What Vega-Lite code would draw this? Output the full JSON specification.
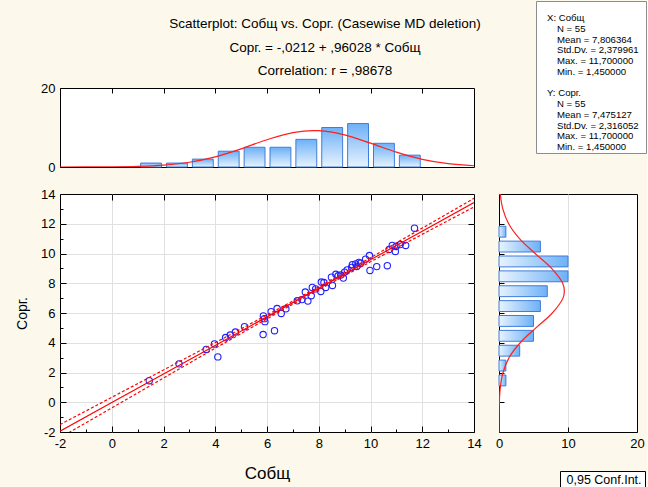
{
  "$schema": "https://vega.github.io/schema/vega-lite/v6.json",
  "background": "#FDF8EC",
  "padding": {"left": 15, "top": 0, "right": 0, "bottom": 0},
  "config": {
    "font": "Liberation Sans",
    "view": {"stroke": "#000000", "strokeWidth": 1, "fill": "#ffffff"},
    "axis": {"domain": false, "labelColor": "#000000", "labelFontSize": 13, "labelFont": "Liberation Sans", "tickColor": "#000000", "gridColor": "#e0e0e0", "titleColor": "#000000", "titleFont": "Liberation Sans", "titleFontWeight": "normal", "labelOverlap": false}
  },
  "datasets": {
    "pts": [
      {"x": 1.45, "y": 1.45}, {"x": 2.6, "y": 2.58}, {"x": 3.65, "y": 3.55}, {"x": 3.97, "y": 3.92}, {"x": 4.1, "y": 3.05},
      {"x": 4.4, "y": 4.35}, {"x": 4.58, "y": 4.52}, {"x": 4.78, "y": 4.72}, {"x": 5.13, "y": 5.08}, {"x": 5.85, "y": 4.55},
      {"x": 6.29, "y": 4.81}, {"x": 5.86, "y": 5.8}, {"x": 5.92, "y": 5.42}, {"x": 6.16, "y": 6.09}, {"x": 6.39, "y": 6.3},
      {"x": 6.55, "y": 5.97}, {"x": 6.73, "y": 6.28}, {"x": 7.17, "y": 6.82}, {"x": 7.35, "y": 6.9}, {"x": 7.48, "y": 7.41},
      {"x": 7.58, "y": 6.8}, {"x": 7.71, "y": 7.16}, {"x": 7.75, "y": 7.72}, {"x": 7.88, "y": 7.62}, {"x": 8.08, "y": 7.45},
      {"x": 8.1, "y": 8.08}, {"x": 8.2, "y": 8.05}, {"x": 8.27, "y": 7.72}, {"x": 8.49, "y": 8.41}, {"x": 8.53, "y": 7.85},
      {"x": 8.66, "y": 8.6}, {"x": 8.95, "y": 8.35}, {"x": 9.0, "y": 8.75}, {"x": 9.1, "y": 8.9}, {"x": 9.27, "y": 9.06},
      {"x": 9.3, "y": 9.25}, {"x": 9.47, "y": 9.13}, {"x": 9.43, "y": 9.3}, {"x": 9.62, "y": 9.35}, {"x": 9.81, "y": 9.62},
      {"x": 9.96, "y": 9.86}, {"x": 9.98, "y": 8.86}, {"x": 10.24, "y": 9.12}, {"x": 10.65, "y": 9.18}, {"x": 10.72, "y": 10.27},
      {"x": 10.84, "y": 10.54}, {"x": 10.96, "y": 10.14}, {"x": 10.99, "y": 10.47}, {"x": 11.15, "y": 10.6}, {"x": 11.36, "y": 10.54},
      {"x": 11.7, "y": 11.7}, {"x": 5.9, "y": 5.62}, {"x": 8.75, "y": 8.5}, {"x": 8.85, "y": 8.55}, {"x": 9.55, "y": 9.4}
    ],
    "hx": [
      {"b0": 1, "b1": 2, "n": 1}, {"b0": 2, "b1": 3, "n": 1}, {"b0": 3, "b1": 4, "n": 2}, {"b0": 4, "b1": 5, "n": 4},
      {"b0": 5, "b1": 6, "n": 5}, {"b0": 6, "b1": 7, "n": 5}, {"b0": 7, "b1": 8, "n": 7}, {"b0": 8, "b1": 9, "n": 10},
      {"b0": 9, "b1": 10, "n": 11}, {"b0": 10, "b1": 11, "n": 6}, {"b0": 11, "b1": 12, "n": 3}
    ],
    "hy": [
      {"b0": 1, "b1": 2, "n": 1}, {"b0": 2, "b1": 3, "n": 1}, {"b0": 3, "b1": 4, "n": 3}, {"b0": 4, "b1": 5, "n": 5},
      {"b0": 5, "b1": 6, "n": 5}, {"b0": 6, "b1": 7, "n": 6}, {"b0": 7, "b1": 8, "n": 7}, {"b0": 8, "b1": 9, "n": 10},
      {"b0": 9, "b1": 10, "n": 10}, {"b0": 10, "b1": 11, "n": 6}, {"b0": 11, "b1": 12, "n": 1}
    ],
    "nx": [
      {"v": -2, "d": 0.0}, {"v": -1, "d": 0.01}, {"v": 0, "d": 0.04}, {"v": 1, "d": 0.15}, {"v": 2, "d": 0.47},
      {"v": 3, "d": 1.2}, {"v": 4, "d": 2.57}, {"v": 5, "d": 4.6}, {"v": 6, "d": 6.91}, {"v": 7, "d": 8.71},
      {"v": 7.8, "d": 9.22}, {"v": 8, "d": 9.19}, {"v": 9, "d": 8.13}, {"v": 10, "d": 6.03}, {"v": 11, "d": 3.75},
      {"v": 12, "d": 1.95}, {"v": 13, "d": 0.85}, {"v": 14, "d": 0.31}
    ],
    "ny": [
      {"v": -2, "d": 0.0}, {"v": -1, "d": 0.01}, {"v": 0, "d": 0.05}, {"v": 1, "d": 0.19}, {"v": 2, "d": 0.58},
      {"v": 3, "d": 1.46}, {"v": 4, "d": 3.07}, {"v": 5, "d": 5.35}, {"v": 6, "d": 7.73}, {"v": 7, "d": 9.27},
      {"v": 7.5, "d": 9.47}, {"v": 8, "d": 9.23}, {"v": 9, "d": 7.62}, {"v": 10, "d": 5.23}, {"v": 11, "d": 2.97},
      {"v": 12, "d": 1.4}, {"v": 13, "d": 0.55}, {"v": 14, "d": 0.18}
    ],
    "fit": [
      {"x": -2, "fit": -1.94, "lo": -2.38, "hi": -1.5},
      {"x": 0, "fit": -0.02, "lo": -0.38, "hi": 0.33},
      {"x": 2, "fit": 1.9, "lo": 1.63, "hi": 2.17},
      {"x": 4, "fit": 3.82, "lo": 3.63, "hi": 4.01},
      {"x": 6, "fit": 5.74, "lo": 5.61, "hi": 5.87},
      {"x": 7.8, "fit": 7.47, "lo": 7.37, "hi": 7.57},
      {"x": 10, "fit": 9.58, "lo": 9.44, "hi": 9.72},
      {"x": 12, "fit": 11.5, "lo": 11.29, "hi": 11.71},
      {"x": 14, "fit": 13.42, "lo": 13.13, "hi": 13.71}
    ],
    "ttl": [
      {"k": 0, "t": "Scatterplot: Собщ vs. Сорг. (Casewise MD deletion)"},
      {"k": 1, "t": "Сорг. = -,0212 + ,96028 * Собщ"},
      {"k": 2, "t": "Correlation: r = ,98678"}
    ],
    "stats": [
      {"k": 0, "kind": "h", "t": "X: Собщ"},
      {"k": 1, "kind": "i", "t": "N = 55"},
      {"k": 2, "kind": "i", "t": "Mean = 7,806364"},
      {"k": 3, "kind": "i", "t": "Std.Dv. = 2,379961"},
      {"k": 4, "kind": "i", "t": "Max. = 11,700000"},
      {"k": 5, "kind": "i", "t": "Min. = 1,450000"},
      {"k": 7, "kind": "h", "t": "Y: Сорг."},
      {"k": 8, "kind": "i", "t": "N = 55"},
      {"k": 9, "kind": "i", "t": "Mean = 7,475127"},
      {"k": 10, "kind": "i", "t": "Std.Dv. = 2,316052"},
      {"k": 11, "kind": "i", "t": "Max. = 11,700000"},
      {"k": 12, "kind": "i", "t": "Min. = 1,450000"}
    ]
  },
  "vconcat": [
    {
      "hconcat": [
        {
          "vconcat": [
            {
              "width": 414, "height": 61,
              "view": {"stroke": null, "fill": "transparent"},
              "data": {"name": "ttl"},
              "mark": {"type": "text", "fontSize": 13.5, "color": "#000000", "dx": 58, "baseline": "middle"},
              "encoding": {
                "y": {"field": "k", "type": "quantitative", "scale": {"domain": [0, 2], "range": [23, 70]}, "axis": null},
                "text": {"field": "t", "type": "nominal"}
              }
            },
            {
              "width": 414, "height": 79,
              "layer": [
                {
                  "data": {"name": "hx"},
                  "mark": {"type": "bar", "binSpacing": 5, "stroke": "#3f7ddb", "strokeWidth": 1,
                    "fill": {"gradient": "linear", "x1": 0, "y1": 0, "x2": 0, "y2": 1, "stops": [{"offset": 0, "color": "#6db1f6"}, {"offset": 1, "color": "#e8f3fe"}]}},
                  "encoding": {
                    "x": {"field": "b0", "type": "quantitative", "bin": "binned", "title": null, "scale": {"domain": [-2, 14], "nice": false, "zero": false},
                      "axis": {"orient": "top", "values": [0, 2, 4, 6, 8, 10, 12], "tickCount": 30, "labels": false, "grid": false, "tickSize": -5}},
                    "x2": {"field": "b1"},
                    "y": {"field": "n", "type": "quantitative", "title": null, "scale": {"domain": [0, 20], "nice": false},
                      "axis": {"values": [0, 10, 20], "format": "d", "labelOverlap": false, "grid": true, "gridOpacity": {"condition": {"test": "datum.value == 10", "value": 1}, "value": 0}, "tickSize": -5, "labelPadding": 10}}
                  }
                },
                {
                  "data": {"name": "nx"},
                  "mark": {"type": "line", "color": "#ff1f1f", "strokeWidth": 1.2, "interpolate": "monotone", "clip": true},
                  "encoding": {
                    "x": {"field": "v", "type": "quantitative", "title": null},
                    "y": {"field": "d", "type": "quantitative", "title": null}
                  }
                }
              ]
            }
          ],
          "spacing": 3
        },
        {
          "width": 110, "height": 152,
          "view": {"stroke": "#8c8c8c", "fill": "#ffffff"},
          "data": {"name": "stats"},
          "mark": {"type": "text", "align": "left", "baseline": "middle", "fontSize": 9.6, "color": "#000000"},
          "encoding": {
            "x": {"field": "kind", "type": "nominal", "scale": {"type": "point", "domain": ["h", "i"], "range": [11, 21], "padding": 0}, "axis": null},
            "y": {"field": "k", "type": "quantitative", "scale": {"domain": [0, 12], "range": [17, 146]}, "axis": null},
            "text": {"field": "t", "type": "nominal"}
          }
        }
      ],
      "spacing": 54
    },
    {
      "hconcat": [
        {
          "width": 414, "height": 238,
          "resolve": {"axis": {"x": "independent", "y": "independent"}},
          "layer": [
            {
              "data": {"name": "pts"},
              "mark": {"type": "point", "shape": "circle", "filled": false, "color": "#1f1fff", "size": 40, "strokeWidth": 1.1, "opacity": 1, "clip": true},
              "encoding": {
                "x": {"field": "x", "type": "quantitative", "title": "Собщ", "scale": {"domain": [-2, 14], "nice": false, "zero": false},
                  "axis": {"values": [-2, -1, 0, 1, 2, 3, 4, 5, 6, 7, 8, 9, 10, 11, 12, 13, 14], "tickCount": 30,
                    "labelExpr": "datum.value % 2 == 0 ? '' + datum.value : ''",
                    "labelOverlap": false,
                    "grid": true,
                    "gridOpacity": {"condition": {"test": "datum.value % 2 == 0 && datum.value > -2 && datum.value < 14", "value": 1}, "value": 0},
                    "tickSize": {"condition": {"test": "datum.value % 2 == 0", "value": -6}, "value": -3},
                    "labelPadding": 11, "labelFlush": false, "titleFontSize": 17, "titlePadding": 12}},
                "y": {"field": "y", "type": "quantitative", "title": "Сорг.", "scale": {"domain": [-2, 14], "nice": false, "zero": false},
                  "axis": {"values": [-2, -1, 0, 1, 2, 3, 4, 5, 6, 7, 8, 9, 10, 11, 12, 13, 14], "tickCount": 30,
                    "labelExpr": "datum.value % 2 == 0 ? '' + datum.value : ''",
                    "labelOverlap": false,
                    "grid": true,
                    "gridOpacity": {"condition": {"test": "datum.value % 2 == 0 && datum.value > -2 && datum.value < 14", "value": 1}, "value": 0},
                    "tickSize": {"condition": {"test": "datum.value % 2 == 0", "value": -6}, "value": -3},
                    "labelPadding": 11, "labelFlush": false, "titleFontSize": 14, "titlePadding": 11}}
              }
            },
            {
              "data": {"name": "fit"},
              "mark": {"type": "line", "color": "#ff0000", "strokeWidth": 1.2, "clip": true},
              "encoding": {
                "x": {"field": "x", "type": "quantitative", "title": null,
                  "axis": {"orient": "top", "values": [0, 2, 4, 6, 8, 10, 12], "tickCount": 30, "labels": false, "grid": false, "tickSize": -6}},
                "y": {"field": "fit", "type": "quantitative", "title": null,
                  "axis": {"orient": "right", "values": [0, 2, 4, 6, 8, 10, 12], "tickCount": 30, "labels": false, "grid": false, "tickSize": -6}}
              }
            },
            {
              "data": {"name": "fit"},
              "mark": {"type": "line", "color": "#ff0000", "strokeWidth": 1.2, "clip": true, "interpolate": "monotone"},
              "encoding": {
                "x": {"field": "x", "type": "quantitative", "axis": null},
                "y": {"field": "lo", "type": "quantitative", "axis": null},
                "strokeDash": {"datum": "0,95 Conf.Int.", "type": "nominal", "scale": {"domain": ["0,95 Conf.Int."], "range": [[3, 2]]},
                  "legend": {"title": null, "orient": "none", "legendX": 500, "legendY": 470, "strokeColor": "#000000", "fillColor": "#ffffff", "padding": 3, "symbolOpacity": 0, "symbolSize": 0, "symbolStrokeWidth": 0, "labelFontSize": 12.5, "labelOffset": -9, "labelColor": "#000000", "labelFont": "Liberation Sans"}}
              }
            },
            {
              "data": {"name": "fit"},
              "mark": {"type": "line", "color": "#ff0000", "strokeWidth": 1.2, "clip": true, "interpolate": "monotone"},
              "encoding": {
                "x": {"field": "x", "type": "quantitative", "axis": null},
                "y": {"field": "hi", "type": "quantitative", "axis": null},
                "strokeDash": {"datum": "0,95 Conf.Int.", "type": "nominal"}
              }
            }
          ]
        },
        {
          "width": 138, "height": 238,
          "layer": [
            {
              "data": {"name": "hy"},
              "mark": {"type": "bar", "binSpacing": 4, "stroke": "#3f7ddb", "strokeWidth": 1,
                "fill": {"gradient": "linear", "x1": 0, "y1": 0, "x2": 1, "y2": 0, "stops": [{"offset": 0, "color": "#e8f3fe"}, {"offset": 1, "color": "#6db1f6"}]}},
              "encoding": {
                "y": {"field": "b0", "type": "quantitative", "bin": "binned", "title": null, "scale": {"domain": [-2, 14], "nice": false, "zero": false},
                  "axis": {"values": [0, 2, 4, 6, 8, 10, 12], "tickCount": 30, "labels": false, "grid": false, "tickSize": -5}},
                "y2": {"field": "b1"},
                "x": {"field": "n", "type": "quantitative", "title": null, "scale": {"domain": [0, 20], "nice": false},
                  "axis": {"values": [0, 10, 20], "format": "d", "labelOverlap": false, "grid": true, "gridOpacity": {"condition": {"test": "datum.value == 10", "value": 1}, "value": 0}, "tickSize": -5, "labelPadding": 10, "labelFlush": false}}
              }
            },
            {
              "data": {"name": "ny"},
              "mark": {"type": "line", "color": "#ff1f1f", "strokeWidth": 1.2, "interpolate": "catmull-rom", "clip": true},
              "encoding": {
                "x": {"field": "d", "type": "quantitative", "title": null},
                "y": {"field": "v", "type": "quantitative", "title": null},
                "order": {"field": "v", "type": "quantitative"}
              }
            }
          ]
        }
      ],
      "spacing": 12
    }
  ],
  "spacing": 12
}
